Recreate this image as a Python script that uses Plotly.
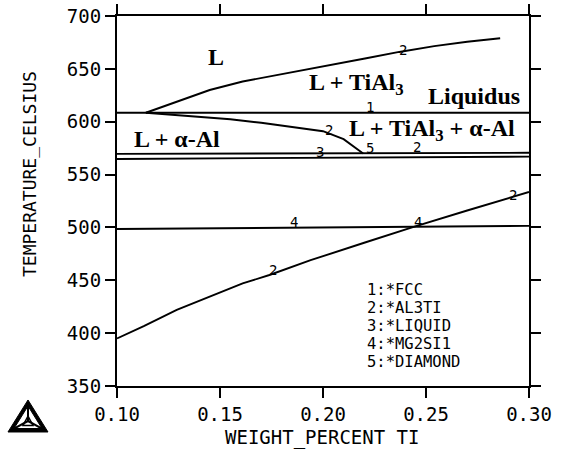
import plotly.graph_objects as go

# --- phase boundary lines (wt% Ti vs temperature, deg C) ---
fcc_x = [0.10, 0.30]
fcc_t = [608.5, 608.5]

al3ti_liq_x = [0.114, 0.129, 0.145, 0.161, 0.1775, 0.194, 0.205, 0.221, 0.237, 0.254, 0.270, 0.286]
al3ti_liq_t = [608.5, 619, 630, 638, 644, 649.5, 653.6, 660, 666, 671.5, 675.7, 679]

al3ti_fcc_x = [0.114, 0.14, 0.155, 0.17, 0.185, 0.20, 0.21, 0.2195]
al3ti_fcc_t = [608.5, 604.5, 602.3, 599, 595, 591, 583.5, 570]

liquid_a_x = [0.10, 0.30]
liquid_a_t = [569.6, 570.6]
liquid_b_x = [0.10, 0.30]
liquid_b_t = [564.8, 567.0]

mg2si_x = [0.10, 0.30]
mg2si_t = [498.5, 501.5]

al3ti_solvus_x = [0.10, 0.113, 0.129, 0.145, 0.161, 0.174, 0.194, 0.22, 0.244, 0.27, 0.30]
al3ti_solvus_t = [395, 406.7, 422, 434.5, 447, 455, 469, 485.5, 500.5, 516, 533.5]

# line numbers written along the curves
curve_tags = ["2", "1", "2", "5", "3", "2", "4", "4", "2", "2"]
curve_tag_x = [0.239, 0.2228, 0.203, 0.2228, 0.1983, 0.2456, 0.186, 0.2461, 0.1755, 0.2922]
curve_tag_t = [668, 613.5, 592, 575.6, 570.9, 576, 505, 505, 459.7, 530.6]

# phase key
key_lines = ["1:*FCC", "2:*AL3TI", "3:*LIQUID", "4:*MG2SI1", "5:*DIAMOND"]
key_x = 0.2205
key_t = [441, 424, 407, 390, 373]

# phase-field labels
region_text = ["L", "L + TiAl<sub>3</sub>", "Liquidus",
               "L + TiAl<sub>3</sub> + α-Al", "L + α-Al"]
region_x = [0.1481, 0.2165, 0.2733, 0.2529, 0.1291]
region_t = [661, 636, 624.6, 592.5, 584]

X_TICKS = [0.10, 0.15, 0.20, 0.25, 0.30]
Y_TICKS = [350, 400, 450, 500, 550, 600, 650, 700]

MONO = "DejaVu Sans Mono"
SERIF = "Liberation Serif"

fig = go.Figure()

line_style = dict(color="black", width=1.9)
for xs, ts in [(fcc_x, fcc_t), (al3ti_liq_x, al3ti_liq_t), (al3ti_fcc_x, al3ti_fcc_t),
               (liquid_a_x, liquid_a_t), (liquid_b_x, liquid_b_t),
               (mg2si_x, mg2si_t), (al3ti_solvus_x, al3ti_solvus_t)]:
    fig.add_trace(go.Scatter(x=xs, y=ts, mode="lines", line=line_style,
                             hoverinfo="skip", showlegend=False))

annotations = []
for tag, x, t in zip(curve_tags, curve_tag_x, curve_tag_t):
    annotations.append(dict(x=x, y=t, xref="x", yref="y", text=tag, showarrow=False,
                            height=10,
                            font=dict(family=MONO, size=14, color="black")))
for line, t in zip(key_lines, key_t):
    annotations.append(dict(x=key_x, y=t, xref="x", yref="y", text=line, showarrow=False,
                            xanchor="left", yanchor="middle", height=16,
                            font=dict(family=MONO, size=15.5, color="black")))
for txt, x, t in zip(region_text, region_x, region_t):
    annotations.append(dict(x=x, y=t, xref="x", yref="y", text="<b>" + txt + "</b>",
                            showarrow=False, xanchor="center", yanchor="middle",
                            font=dict(family=SERIF, size=24, color="black")))

# plot-area geometry in pixels, used to place the logo and axis titles
W, H = 562, 452
L, R, T, B = 117, 33, 16, 66


def paper(px, py):
    return (px - L) / (W - L - R), (H - B - py) / (H - T - B)


def path(points, close=True):
    pts = [paper(*p) for p in points]
    d = "M " + " L ".join(f"{x:.4f},{y:.4f}" for x, y in pts)
    return d + (" Z" if close else "")


# axis titles
xt_x, xt_y = paper(322, 438)
yt_x, yt_y = paper(29, 174)
annotations.append(dict(x=xt_x, y=xt_y, xref="paper", yref="paper",
                        text="WEIGHT_PERCENT TI", showarrow=False,
                        xanchor="center", yanchor="middle",
                        font=dict(family=MONO, size=19, color="black")))
annotations.append(dict(x=yt_x, y=yt_y, xref="paper", yref="paper",
                        text="TEMPERATURE_CELSIUS", showarrow=False, textangle=-90,
                        xanchor="center", yanchor="middle",
                        font=dict(family=MONO, size=18, color="black")))

# software logo: triangle with spokes
shapes = []
outer = [(8, 432), (48, 432), (28, 400)]
inner = [(14, 428.5), (42, 428.5), (28, 406)]
cx, cy = 28, 421
small = [(23, 425.5), (33, 425.5), (28, 416)]
shapes.append(dict(type="path", xref="paper", yref="paper", path=path(outer),
                   fillcolor="black", line=dict(color="black", width=1)))
shapes.append(dict(type="path", xref="paper", yref="paper", path=path(inner),
                   fillcolor="white", line=dict(color="black", width=1)))
for v in inner:
    shapes.append(dict(type="path", xref="paper", yref="paper",
                       path=path([(cx, cy), v], close=False),
                       line=dict(color="black", width=2)))
shapes.append(dict(type="path", xref="paper", yref="paper", path=path(small),
                   line=dict(color="black", width=1.5)))

axis_common = dict(showgrid=False, zeroline=False, showline=True, linecolor="black",
                   linewidth=2, ticks="outside", ticklen=10, tickwidth=2,
                   tickcolor="black", mirror="ticks", automargin=False,
                   tickfont=dict(family=MONO, size=19, color="black"))

fig.update_layout(
    width=W, height=H,
    margin=dict(l=L, r=R, t=T, b=B, autoexpand=False),
    paper_bgcolor="white", plot_bgcolor="white",
    xaxis=dict(range=[0.10, 0.30], tickvals=X_TICKS,
               ticktext=[f"{v:.2f}" for v in X_TICKS], **axis_common),
    yaxis=dict(range=[350, 700], tickvals=Y_TICKS,
               ticktext=[str(v) for v in Y_TICKS], **axis_common),
    annotations=annotations,
    shapes=shapes,
    showlegend=False,
)

fig.write_html("out.html")
